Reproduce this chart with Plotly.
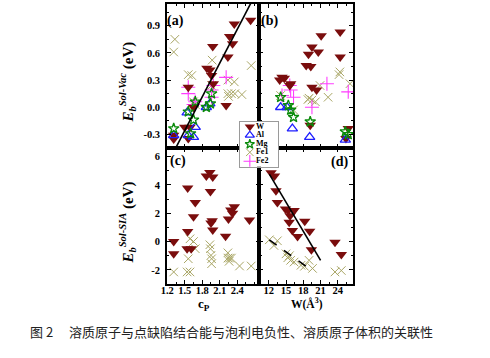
import plotly.graph_objects as go

# ---------------- data ----------------
# Panel (a): Eb(Sol-Vac) vs Pauling electronegativity cP
a_W_x = [2.63, 2.35, 2.27, 2.32, 1.98, 2.24, 1.88, 1.93, 1.96, 1.99, 2.21, 1.56, 1.65, 1.50, 1.59, 1.31, 1.31, 1.56]
a_W_y = [0.96, 0.92, 0.78, 0.70, 0.67, 0.555, 0.43, 0.41, 0.35, 0.26, 0.02, 0.22, 0.00, -0.22, -0.22, -0.31, -0.35, -0.345]
a_Al_x = [1.31, 1.56, 1.65, 1.68, 1.54, 1.87, 1.93]
a_Al_y = [-0.31, -0.31, -0.33, -0.22, -0.06, 0.00, 0.04]
a_Mg_x = [1.31, 1.56, 1.68, 1.60, 1.65, 1.87, 1.96, 1.94]
a_Mg_y = [-0.235, -0.05, 0.06, -0.29, -0.14, 0.00, 0.15, 0.04]
a_Fe1_x = [1.33, 1.31, 1.56, 1.62, 1.65, 1.68, 1.97, 1.96, 2.24, 2.35, 2.24, 2.30, 2.36, 2.48, 2.64, 2.25]
a_Fe1_y = [0.75, 0.61, 0.36, 0.35, 0.06, 0.03, 0.52, 0.24, 0.30, 0.28, 0.15, 0.15, 0.15, 0.14, 0.46, 0.12]
a_Fe2_x = [1.56, 1.56, 1.68, 1.65, 1.96, 1.96, 2.21, 1.99]
a_Fe2_y = [0.22, 0.15, 0.06, 0.03, 0.19, 0.11, 0.33, 0.24]
a_fit_x = [1.30, 2.66]
a_fit_y = [-0.505, 1.182]

# Panel (b): Eb(Sol-Vac) vs solute atomic volume W
b_W_x = [24.4, 21.1, 19.5, 20.6, 18.9, 18.5, 19.3, 14.3, 14.7, 13.9, 15.8, 15.65, 19.5, 20.3, 24.4, 19.2, 25.8, 25.4]
b_W_y = [0.83, 0.79, 0.665, 0.61, 0.585, 0.46, 0.45, 0.33, 0.32, 0.30, 0.26, 0.24, 0.22, 0.19, 0.555, -0.20, -0.235, -0.345]
b_Al_x = [14.06, 15.2, 16.1, 19.1, 25.3]
b_Al_y = [0.00, 0.00, -0.235, -0.33, -0.36]
b_Mg_x = [14.06, 15.8, 16.3, 19.2, 25.3, 25.8, 15.4]
b_Mg_y = [0.11, -0.03, -0.11, -0.16, -0.27, -0.30, 0.02]
b_Fe1_x = [24.35, 24.2, 26.1, 20.9, 19.5, 20.1, 22.3, 14.06, 16.3, 18.8, 19.0]
b_Fe1_y = [0.39, 0.36, 0.26, 0.24, 0.08, 0.06, 0.11, 0.13, -0.03, 0.085, 0.10]
b_Fe2_x = [22.1, 15.8, 16.3, 14.3, 19.5, 25.8, 15.65]
b_Fe2_y = [0.26, 0.19, 0.11, 0.13, 0.00, 0.17, 0.24]

# Panel (c): Eb(Sol-SIA) vs cP
c_W_x = [1.31, 1.31, 1.55, 1.68, 1.65, 1.55, 1.54, 1.61, 1.87, 1.93, 1.98, 1.94, 1.97, 1.98, 2.20, 2.25, 2.29, 2.35, 2.32, 2.61, 1.95]
c_W_y = [0.00, -0.87, 3.77, 2.76, 1.75, 0.70, -0.51, -0.51, 4.63, 4.87, 4.56, 3.53, 1.47, 0.82, 0.37, 1.59, 2.22, 2.46, 2.00, 1.52, 1.30]
c_Fe1_x = [1.31, 1.54, 1.59, 1.59, 1.68, 1.56, 1.93, 1.94, 1.95, 1.96, 1.96, 2.24, 2.24, 2.27, 2.30, 2.26, 2.44, 2.64, 1.65]
c_Fe1_y = [-2.15, -2.15, -2.15, 0.19, -0.51, -1.22, -0.23, -0.51, -0.98, -1.22, -1.57, -0.80, -1.17, -1.17, -1.17, -1.40, -1.73, -1.73, 0.00]

# Panel (d): Eb(Sol-SIA) vs W
d_W_x = [12.4, 13.0, 13.25, 13.5, 14.9, 15.4, 16.4, 15.7, 15.55, 16.1, 17.0, 18.25, 19.1, 19.4, 23.5, 24.6]
d_W_y = [4.86, 4.63, 3.58, 2.76, 2.29, 2.18, 2.18, 1.82, 1.36, 0.77, 0.35, 1.43, 0.73, -0.59, -0.05, -0.91]
d_Fe1_x = [12.1, 12.9, 13.5, 15.0, 15.6, 15.3, 15.8, 16.4, 17.6, 18.2, 19.0, 19.6, 23.5, 24.6]
d_Fe1_y = [0.12, -0.28, 0.05, -0.87, -1.0, -1.15, -1.33, -1.45, -1.68, -1.75, -1.33, -1.90, -2.15, -2.05]
d_fitW_x = [12.1, 21.0]
d_fitW_y = [4.75, -1.33]
d_fitFe_x = [12.1, 19.6]
d_fitFe_y = [0.12, -2.08]

legend_names = ["W", "Al", "Mg", "Fe1", "Fe2"]
cp_ticks = [1.2, 1.5, 1.8, 2.1, 2.4]
cp_text = ["1.2", "1.5", "1.8", "2.1", "2.4"]
vol_ticks = [12, 15, 18, 21, 24]
vol_text = ["12", "15", "18", "21", "24"]
vac_ticks = [-0.3, 0.0, 0.3, 0.6, 0.9]
vac_text = ["-0.3", "0.0", "0.3", "0.6", "0.9"]
sia_ticks = [-2, 0, 2, 4, 6]
sia_text = ["-2", "0", "2", "4", "6"]

# ---------------- styles ----------------
W_CLR = "#7a0d0d"
AL_CLR = "#1f1fff"
MG_CLR = "#0a8a0a"
FE1_CLR = "#a9a665"
FE2_CLR = "#ff3cff"

styles = {
    "W": dict(symbol="triangle-down", color=W_CLR, size=10),
    "Al": dict(symbol="triangle-up-open", color=AL_CLR, size=9, line=dict(width=1.3, color=AL_CLR)),
    "Mg": dict(symbol="star-open", color=MG_CLR, size=8, line=dict(width=1.3, color=MG_CLR)),
    "Fe1": dict(symbol="x-thin-open", color=FE1_CLR, size=8.5, line=dict(width=1.0, color=FE1_CLR)),
    "Fe2": dict(symbol="cross-thin-open", color=FE2_CLR, size=10, line=dict(width=1.1, color=FE2_CLR)),
}

fig = go.Figure()

def pts(x, y, name, xa, ya):
    fig.add_trace(go.Scatter(x=x, y=y, mode="markers", name=name, marker=styles[name],
                             xaxis=xa, yaxis=ya, showlegend=False))

# panel a
pts(a_Fe1_x, a_Fe1_y, "Fe1", "x", "y")
pts(a_Fe2_x, a_Fe2_y, "Fe2", "x", "y")
pts(a_W_x, a_W_y, "W", "x", "y")
pts(a_Al_x, a_Al_y, "Al", "x", "y")
pts(a_Mg_x, a_Mg_y, "Mg", "x", "y")
fig.add_trace(go.Scatter(x=a_fit_x, y=a_fit_y, mode="lines", line=dict(color="black", width=1.6),
                         xaxis="x", yaxis="y", showlegend=False))
# panel b
pts(b_Fe1_x, b_Fe1_y, "Fe1", "x2", "y2")
pts(b_Fe2_x, b_Fe2_y, "Fe2", "x2", "y2")
pts(b_W_x, b_W_y, "W", "x2", "y2")
pts(b_Al_x, b_Al_y, "Al", "x2", "y2")
pts(b_Mg_x, b_Mg_y, "Mg", "x2", "y2")
# panel c
pts(c_Fe1_x, c_Fe1_y, "Fe1", "x3", "y3")
pts(c_W_x, c_W_y, "W", "x3", "y3")
# panel d
pts(d_Fe1_x, d_Fe1_y, "Fe1", "x4", "y4")
pts(d_W_x, d_W_y, "W", "x4", "y4")
fig.add_trace(go.Scatter(x=d_fitW_x, y=d_fitW_y, mode="lines", line=dict(color="black", width=1.6),
                         xaxis="x4", yaxis="y4", showlegend=False))
fig.add_trace(go.Scatter(x=d_fitFe_x, y=d_fitFe_y, mode="lines", line=dict(color="black", width=1.6, dash="dash"),
                         xaxis="x4", yaxis="y4", showlegend=False))

# custom legend (small box)
leg_y = [0.89, 0.70, 0.50, 0.32, 0.12]
for nm, yy in zip(legend_names, leg_y):
    st = dict(styles[nm])
    st["size"] = max(st["size"] - 1, 7)
    fig.add_trace(go.Scatter(x=[0.26], y=[yy], mode="markers", marker=st,
                             xaxis="x5", yaxis="y5", showlegend=False, hoverinfo="skip"))
    fig.add_trace(go.Scatter(x=[0.42], y=[yy], mode="text", text=[nm], textposition="middle right",
                             textfont=dict(family="Liberation Serif", size=8, color="black", weight="bold"),
                             xaxis="x5", yaxis="y5", showlegend=False, hoverinfo="skip"))

# ---------------- layout ----------------
W_, H_ = 490, 358
xa = [163 / W_, 256.5 / W_]
xb = [256.5 / W_, 351.5 / W_]
ya = [1 - 148 / H_, 1 - 4 / H_]
yc = [1 - 284 / H_, 1 - 148 / H_]

tickfont = dict(family="Liberation Serif", size=10.5, color="black", weight="bold")

def ax(domain, anchor, rng, tvals, ttext, minor_dtick, labels, isx):
    d = dict(domain=domain, anchor=anchor, range=rng, showline=True, linecolor="black", linewidth=1.6,
             mirror="ticks", ticks="inside", ticklen=4, tickwidth=1.2, tickcolor="black",
             tickmode="array", tickvals=tvals, ticktext=ttext, showgrid=False, zeroline=False,
             showticklabels=labels, tickfont=tickfont,
             minor=dict(dtick=minor_dtick, tick0=0, ticks="inside", ticklen=2.5, tickwidth=1,
                        tickcolor="black", showgrid=False))
    d["ticklabelstandoff"] = -4 if isx else 3
    return d

ra = [-0.45, 1.14]
rc = [-3.0, 6.6]
rxa = [1.195, 2.78]
rxb = [10.37, 26.66]

fig.update_layout(
    width=W_, height=H_,
    margin=dict(l=0, r=0, t=0, b=0),
    paper_bgcolor="white", plot_bgcolor="white",
    showlegend=False,
    xaxis=ax(xa, "y", rxa, cp_ticks, cp_text, 0.15, False, True),
    yaxis=ax(ya, "x", ra, vac_ticks, vac_text, 0.15, True, False),
    xaxis2=ax(xb, "y2", rxb, vol_ticks, vol_text, 1.5, False, True),
    yaxis2=ax(ya, "x2", ra, vac_ticks, vac_text, 0.15, False, False),
    xaxis3=ax(xa, "y3", rxa, cp_ticks, cp_text, 0.15, True, True),
    yaxis3=ax(yc, "x3", rc, sia_ticks, sia_text, 1, True, False),
    xaxis4=ax(xb, "y4", rxb, vol_ticks, vol_text, 1.5, True, True),
    yaxis4=ax(yc, "x4", rc, sia_ticks, sia_text, 1, False, False),
    xaxis5=dict(domain=[236.7 / W_, 275.7 / W_], anchor="y5", range=[0, 1], showline=True, mirror=True,
                linecolor="#9a9a9a", linewidth=1, showticklabels=False, ticks="", showgrid=False, zeroline=False),
    yaxis5=dict(domain=[1 - 166.7 / H_, 1 - 121.7 / H_], anchor="x5", range=[0, 1], showline=True, mirror=True,
                linecolor="#9a9a9a", linewidth=1, showticklabels=False, ticks="", showgrid=False, zeroline=False),
)

serif = "Liberation Serif"
ann = []
def pix(x, y):
    return x / W_, 1 - y / H_

for lbl, (px, py) in zip(["(a)", "(b)", "(c)", "(d)"], [(172, 21), (267, 21), (174, 161), (338, 162)]):
    xx, yy = pix(px, py)
    ann.append(dict(text="<b>%s</b>" % lbl, x=xx, y=yy, xref="paper", yref="paper", showarrow=False,
                    xanchor="center", yanchor="middle", font=dict(family=serif, size=14, color="black")))

ytitle_a = "<b><i>E</i></b><sub><b><i>b</i></b></sub><sup><b><i>Sol-Vac</i></b></sup><b> (eV)</b>"
ytitle_c = "<b><i>E</i></b><sub><b><i>b</i></b></sub><sup><b><i>Sol-SIA</i></b></sup><b> (eV)</b>"
for t, (px, py) in [(ytitle_a, (123, 82)), (ytitle_c, (123, 222))]:
    xx, yy = pix(px, py)
    ann.append(dict(text=t, x=xx, y=yy, xref="paper", yref="paper", showarrow=False, textangle=-90,
                    xanchor="center", yanchor="middle", font=dict(family=serif, size=15, color="black")))

xx, yy = pix(200, 304)
ann.append(dict(text="<b>c</b><sub><b>P</b></sub>", x=xx, y=yy, xref="paper", yref="paper", showarrow=False,
                xanchor="center", yanchor="middle", font=dict(family=serif, size=13, color="black")))
xx, yy = pix(305, 303)
ann.append(dict(text="<b>W(Å</b><sup><b>3</b></sup><b>)</b>", x=xx, y=yy, xref="paper", yref="paper", showarrow=False,
                xanchor="center", yanchor="middle", font=dict(family=serif, size=11.5, color="black")))

xx, yy = pix(22, 331)
ann.append(dict(text="图 2　 溶质原子与点缺陷结合能与泡利电负性、溶质原子体积的关联性", x=xx, y=yy,
                xref="paper", yref="paper", showarrow=False, xanchor="left", yanchor="middle",
                font=dict(family="Noto Sans CJK SC", size=13, color="#222222")))

fig.update_layout(annotations=ann)
fig.write_html("out.html", config={"displayModeBar": False},
               post_script="document.body.style.margin='0px';document.body.style.padding='0px';")
